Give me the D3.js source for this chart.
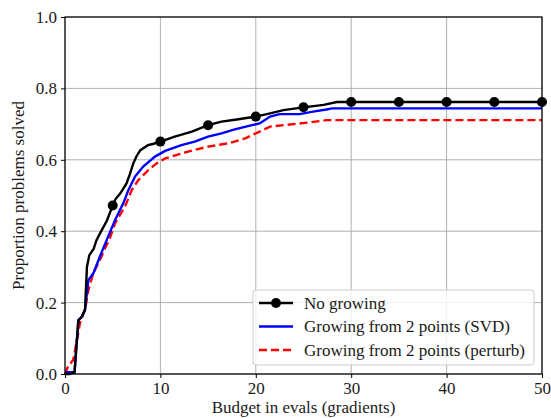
<!DOCTYPE html>
<html>
<head>
<meta charset="utf-8">
<script src="https://cdn.jsdelivr.net/npm/d3@7"></script>
<style>
    body { margin: 0; background: white; }
    svg text { font-family: "Liberation Serif", "Times New Roman", serif !important; fill: #1a1a1a; }
</style>
</head>
<body>
<div id="canvas"></div>
<script>
// series: [budget, proportion solved]
let noGrowing = [[0,0],[0.5,0],[1.0,0.005],[1.4,0.15],[1.75,0.16],[2.1,0.18],[2.3,0.3],[2.55,0.333],
    [3.0,0.35],[3.3,0.375],[3.85,0.403],[4.4,0.43],[5,0.472],[5.3,0.49],[5.8,0.506],[6.45,0.534],
    [6.8,0.56],[7.16,0.59],[7.5,0.61],[7.9,0.627],[8.7,0.641],[9.3,0.645],[10,0.651],[11.5,0.665],
    [13.3,0.679],[15,0.697],[16.4,0.707],[18,0.713],[19.7,0.72],[20,0.721],[21.5,0.73],[22.9,0.739],
    [25,0.747],[27.1,0.754],[28.5,0.762],[50,0.762]]

let growSVD = [[0,0.005],[1.0,0.005],[1.4,0.151],[1.75,0.16],[2.1,0.18],[2.45,0.263],[2.97,0.282],
    [3.67,0.33],[4.37,0.375],[5.24,0.431],[6.11,0.478],[6.64,0.515],[7.34,0.553],[8.2,0.581],
    [9.43,0.609],[10.5,0.625],[12.2,0.641],[13.6,0.651],[15,0.665],[16.4,0.674],[17.8,0.685],
    [19.6,0.697],[20.4,0.702],[21.5,0.721],[22.5,0.728],[24.6,0.728],[26,0.735],[27.4,0.741],
    [28,0.744],[50,0.744]]

let growPerturb = [[0,0],[0.3,0.02],[0.87,0.04],[1.57,0.143],[2.1,0.18],[2.45,0.235],[2.97,0.283],
    [3.67,0.32],[4.19,0.352],[4.7,0.38],[5.24,0.422],[6.29,0.469],[6.99,0.515],[7.68,0.543],
    [8.73,0.571],[9.6,0.59],[10.5,0.604],[12.9,0.623],[15,0.637],[17.1,0.646],[18.9,0.66],
    [19.6,0.669],[20.4,0.679],[21.5,0.693],[22.9,0.697],[25.7,0.705],[27.4,0.711],[50,0.711]]

let markerX = [5, 10, 15, 20, 25, 30, 35, 40, 45, 50]
let xTicks = [0, 10, 20, 30, 40, 50]
let yTicks = [0, 0.2, 0.4, 0.6, 0.8, 1.0]
let legendLabels = ["No growing", "Growing from 2 points (SVD)", "Growing from 2 points (perturb)"]

// setup canvas
let width = 551
let height = 418
let margin = {left: 65, right: 9, top: 17, bottom: 44}
let fontSize = 17

let svg = d3.select("#canvas").append("svg")
    .attr("width", width)
    .attr("height", height)

let x = d3.scaleLinear().domain([0, 50]).range([margin.left, width - margin.right])
let y = d3.scaleLinear().domain([0, 1]).range([height - margin.bottom, margin.top])

// grid
svg.append("g")
    .selectAll("line")
    .data(xTicks)
    .enter().append("line")
        .attr("x1", d => x(d)).attr("x2", d => x(d))
        .attr("y1", y(0)).attr("y2", y(1))
        .attr("stroke", "#b0b0b0")
        .attr("stroke-width", 1)

svg.append("g")
    .selectAll("line")
    .data(yTicks)
    .enter().append("line")
        .attr("x1", x(0)).attr("x2", x(50))
        .attr("y1", d => y(d)).attr("y2", d => y(d))
        .attr("stroke", "#b0b0b0")
        .attr("stroke-width", 1)

// lines
let line = d3.line()
    .x(d => x(d[0]))
    .y(d => y(d[1]))

let plot = svg.append("g")

plot.append("path")
    .datum(growPerturb)
    .attr("d", line)
    .attr("fill", "none")
    .attr("stroke", "red")
    .attr("stroke-width", 2.4)
    .attr("stroke-dasharray", "8,4")

plot.append("path")
    .datum(growSVD)
    .attr("d", line)
    .attr("fill", "none")
    .attr("stroke", "blue")
    .attr("stroke-width", 2.4)

plot.append("path")
    .datum(noGrowing)
    .attr("d", line)
    .attr("fill", "none")
    .attr("stroke", "black")
    .attr("stroke-width", 2.4)

// markers sit on the black curve
function valueAt(series, bx) {
    let i = d3.bisector(d => d[0]).left(series, bx)
    if (i <= 0) return series[0][1]
    if (i >= series.length) return series[series.length - 1][1]
    let a = series[i - 1], b = series[i]
    return a[1] + (b[1] - a[1]) * (bx - a[0]) / (b[0] - a[0])
}

plot.selectAll("circle")
    .data(markerX)
    .enter().append("circle")
        .attr("cx", d => x(d))
        .attr("cy", d => y(valueAt(noGrowing, d)))
        .attr("r", 5)
        .attr("fill", "black")

// axes
let xAxis = svg.append("g")
    .attr("transform", "translate(0," + y(0) + ")")
    .call(d3.axisBottom(x).tickValues(xTicks).tickSize(4).tickPadding(4).tickFormat(d3.format("d")))

let yAxis = svg.append("g")
    .attr("transform", "translate(" + x(0) + ",0)")
    .call(d3.axisLeft(y).tickValues(yTicks).tickSize(4).tickPadding(4).tickFormat(d3.format(".1f")))

for (let ax of [xAxis, yAxis]) {
    ax.attr("font-size", fontSize)
    ax.select(".domain").remove()
    ax.selectAll("line").attr("stroke", "black").attr("stroke-width", 1)
}

// frame
svg.append("rect")
    .attr("x", x(0)).attr("y", y(1))
    .attr("width", x(50) - x(0)).attr("height", y(0) - y(1))
    .attr("fill", "none")
    .attr("stroke", "black")
    .attr("stroke-width", 1.2)

// axis labels
svg.append("text")
    .attr("x", (x(0) + x(50)) / 2)
    .attr("y", 413)
    .attr("text-anchor", "middle")
    .attr("font-size", fontSize)
    .text("Budget in evals (gradients)")

svg.append("text")
    .attr("transform", "translate(24," + (y(0) + y(1)) / 2 + ") rotate(-90)")
    .attr("text-anchor", "middle")
    .attr("font-size", fontSize)
    .text("Proportion problems solved")

// legend
let legend = svg.append("g").attr("transform", "translate(253,290)")

legend.append("rect")
    .attr("width", 281)
    .attr("height", 75)
    .attr("rx", 3)
    .attr("fill", "white")
    .attr("fill-opacity", 0.8)
    .attr("stroke", "#cccccc")

let styles = [
    {color: "black", dash: null, marker: true},
    {color: "blue", dash: null, marker: false},
    {color: "red", dash: "8,4", marker: false}
]

let rows = legend.selectAll(".row")
    .data(legendLabels)
    .enter().append("g")
        .attr("class", "row")
        .attr("transform", (d, i) => "translate(0," + (13 + i * 23.5) + ")")

rows.append("line")
    .attr("x1", 6).attr("x2", 40)
    .attr("stroke", (d, i) => styles[i].color)
    .attr("stroke-width", 2.4)
    .attr("stroke-dasharray", (d, i) => styles[i].dash)

rows.filter((d, i) => styles[i].marker)
    .append("circle")
    .attr("cx", 23)
    .attr("r", 5)
    .attr("fill", "black")

rows.append("text")
    .attr("x", 51)
    .attr("dy", "0.33em")
    .attr("font-size", fontSize)
    .text(d => d)
</script>
</body>
</html>
